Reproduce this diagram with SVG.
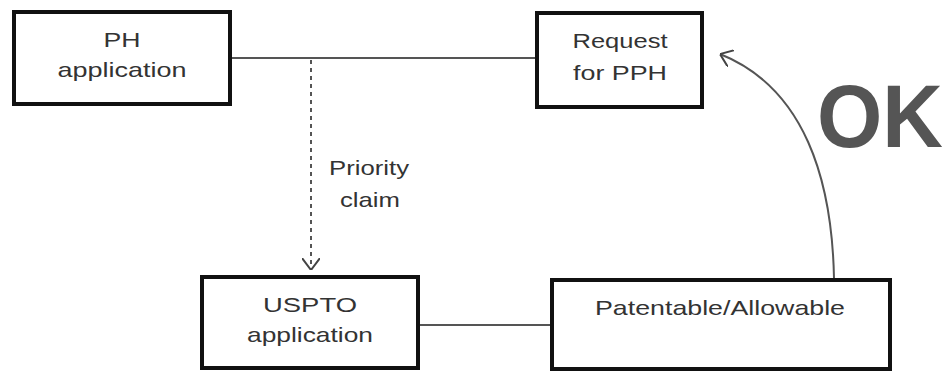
<svg xmlns="http://www.w3.org/2000/svg" width="950" height="374" viewBox="0 0 950 374">
<style>
.box{fill:#fff;stroke:#111;stroke-width:4}
.lbl{font-family:"Liberation Sans",Arial,sans-serif;font-size:21px;fill:#333;text-anchor:middle}
.conn{fill:none;stroke:#555;stroke-width:2}
.dash{stroke-dasharray:4 4}
.ok{font-family:"Liberation Sans",Arial,sans-serif;font-size:89px;font-weight:bold;fill:#555}
</style>
<defs>
<marker id="arr" viewBox="0 0 12 18" refX="12" refY="9" markerWidth="12" markerHeight="18" markerUnits="userSpaceOnUse" orient="auto">
<path d="M0,0 L12,9 L0,18" fill="none" stroke="#444" stroke-width="2"/>
</marker>
</defs>
<rect width="950" height="374" fill="#fff"/>
<g id="connectors">
<line class="conn" x1="230" y1="58" x2="537" y2="58"/>
<line class="conn dash" x1="311" y1="60" x2="311" y2="270" marker-end="url(#arr)"/>
<line class="conn" x1="418" y1="325" x2="552" y2="325"/>
<path class="conn" d="M834,278 C832,180 805,88 720,54" marker-end="url(#arr)"/>
<text class="lbl" x="369" y="175" textLength="80" lengthAdjust="spacingAndGlyphs">Priority</text>
<text class="lbl" x="370" y="207" textLength="60" lengthAdjust="spacingAndGlyphs">claim</text>
</g>
<g id="ph-application">
<rect class="box" x="14" y="12" width="216" height="92"/>
<text class="lbl" x="122" y="47" textLength="37" lengthAdjust="spacingAndGlyphs">PH</text>
<text class="lbl" x="122" y="77" textLength="129" lengthAdjust="spacingAndGlyphs">application</text>
</g>
<g id="request-pph">
<rect class="box" x="537" y="13" width="165" height="94"/>
<text class="lbl" x="620" y="48" textLength="95" lengthAdjust="spacingAndGlyphs">Request</text>
<text class="lbl" x="620" y="80" textLength="94" lengthAdjust="spacingAndGlyphs">for PPH</text>
</g>
<g id="uspto-application">
<rect class="box" x="202" y="277" width="216" height="91"/>
<text class="lbl" x="310" y="312" textLength="94" lengthAdjust="spacingAndGlyphs">USPTO</text>
<text class="lbl" x="310" y="342" textLength="126" lengthAdjust="spacingAndGlyphs">application</text>
</g>
<g id="patentable">
<rect class="box" x="552" y="280" width="338" height="89"/>
<text class="lbl" x="720" y="315" textLength="250" lengthAdjust="spacingAndGlyphs">Patentable/Allowable</text>
</g>
<g id="ok-label">
<text class="ok" x="817" y="147" textLength="126" lengthAdjust="spacingAndGlyphs">OK</text>
</g>
</svg>
